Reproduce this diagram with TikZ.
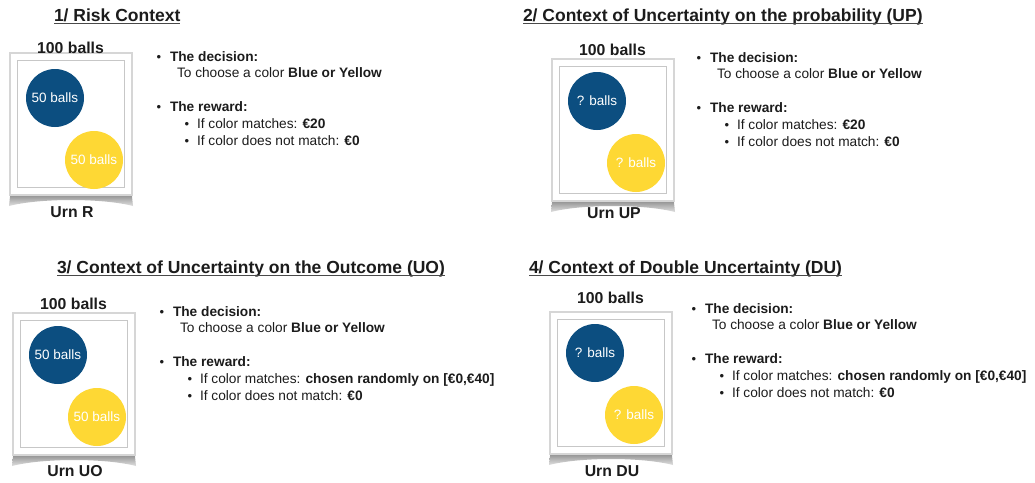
\documentclass[tikz,border=0pt]{standalone}
\usepackage{fontspec}
\setmainfont{Liberation Sans}
\begin{document}
\definecolor{urnblue}{RGB}{12,78,128}
\definecolor{urnyellow}{RGB}{254,216,52}
\definecolor{ink}{RGB}{28,28,28}
\tikzset{
  every node/.style={inner sep=0pt, outer sep=0pt, text=ink},
  titletext/.style={anchor=base west, font=\bfseries\fontsize{17.5}{20}\selectfont},
  underl/.style={draw=ink!80, line width=0.9pt},
  cardbox/.style={rectangle, fill=white, draw=black!16, line width=1.4pt,
                  minimum width=122pt, minimum height=142pt, anchor=north west},
  innerbox/.style={rectangle, draw=black!22, line width=0.7pt,
                   minimum width=107pt, minimum height=127pt},
  cardshadow/.style={top color=black!65, bottom color=black!12},
  ball/.style={circle, minimum size=58pt, text=white,
               font=\fontsize{13.5}{16}\selectfont},
  urnhead/.style={anchor=base, font=\bfseries\fontsize{15.8}{18}\selectfont},
  bodytext/.style={anchor=base west, font=\fontsize{13.7}{16}\selectfont},
  headtext/.style={anchor=base west, font=\bfseries\fontsize{13.7}{16}\selectfont},
  dot/.style={anchor=base, font=\fontsize{13}{16}\selectfont},
}
% urn card: #1 prefix, #2 #3 card top-left, #4 ball text,
% #5 baseline of "100 balls", #6 urn label, #7 baseline of urn label, #8 ball shift
\newcommand{\urncard}[8]{%
  \shade[cardshadow] (#2+1,#3+134) -- (#2+121,#3+134) -- (#2+123,#3+153)
     .. controls (#2+92,#3+145) and (#2+30,#3+145) .. (#2-1,#3+153) -- cycle;
  \node[cardbox] (#1card) at (#2,#3) {};
  \node[innerbox] (#1inner) at ([xshift=-0.5pt,yshift=0.5pt]#1card.center) {};
  \node[ball, fill=urnblue] (#1blue) at (#2+45,#3+42+#8) {#4};
  \node[ball, fill=urnyellow] (#1yellow) at (#2+84,#3+104+#8) {#4};
  \node[urnhead] (#1top) at (#2+60.5,#5) {100 balls};
  \node[urnhead] (#1name) at (#2+62,#7) {#6};
}
% game rules: #1 prefix, #2 bullet x, #3 baseline of first line, #4 reward on match
\newcommand{\rulesblock}[4]{%
  \node[dot] (#1b1) at (#2,#3) {\textbullet};
  \node[headtext] (#1dec) at (#2+11,#3) {The decision:};
  \node[bodytext] (#1choice) at (#2+18,#3+16) {To choose a color \textbf{Blue or Yellow}};
  \node[dot] (#1b2) at (#2,#3+50) {\textbullet};
  \node[headtext] (#1rew) at (#2+11,#3+50) {The reward:};
  \node[dot] (#1b3) at (#2+28,#3+67) {\textbullet};
  \node[bodytext] (#1win) at (#2+38,#3+67) {If color matches: \textbf{#4}};
  \node[dot] (#1b4) at (#2+28,#3+84) {\textbullet};
  \node[bodytext] (#1lose) at (#2+38,#3+84) {If color does not match: \textbf{€0}};
}
\begin{tikzpicture}[x=1pt, y=-1pt]
\useasboundingbox[fill=white] (0,0) rectangle (1035,482);

% 1 -- risk
\node[titletext] (t1) at (54,21) {1/ Risk Context};
\draw[underl] ([yshift=-2.5pt]t1.base west) -- ([yshift=-2.5pt]t1.base east);
\urncard{r}{10}{53}{50 balls}{53}{Urn R}{217}{3}
\rulesblock{r}{159}{61}{€20}

% 2 -- uncertain probability
\node[titletext] (t2) at (523,21) {2/ Context of Uncertainty on the probability (UP)};
\draw[underl] ([yshift=-2.5pt]t2.base west) -- ([yshift=-2.5pt]t2.base east);
\urncard{p}{552}{59}{? balls}{55}{Urn UP}{218}{0}
\rulesblock{p}{699}{62}{€20}

% 3 -- uncertain outcome
\node[titletext] (t3) at (57,273) {3/ Context of Uncertainty on the Outcome (UO)};
\draw[underl] ([yshift=-2.5pt]t3.base west) -- ([yshift=-2.5pt]t3.base east);
\urncard{o}{13}{313}{50 balls}{309}{Urn UO}{476}{0}
\rulesblock{o}{162}{316}{chosen randomly on [€0,€40]}

% 4 -- double uncertainty
\node[titletext] (t4) at (529,273) {4/ Context of Double Uncertainty (DU)};
\draw[underl] ([yshift=-2.5pt]t4.base west) -- ([yshift=-2.5pt]t4.base east);
\urncard{d}{550}{312}{? balls}{303}{Urn DU}{476}{-1}
\rulesblock{d}{694}{313}{chosen randomly on [€0,€40]}
\end{tikzpicture}
\end{document}
